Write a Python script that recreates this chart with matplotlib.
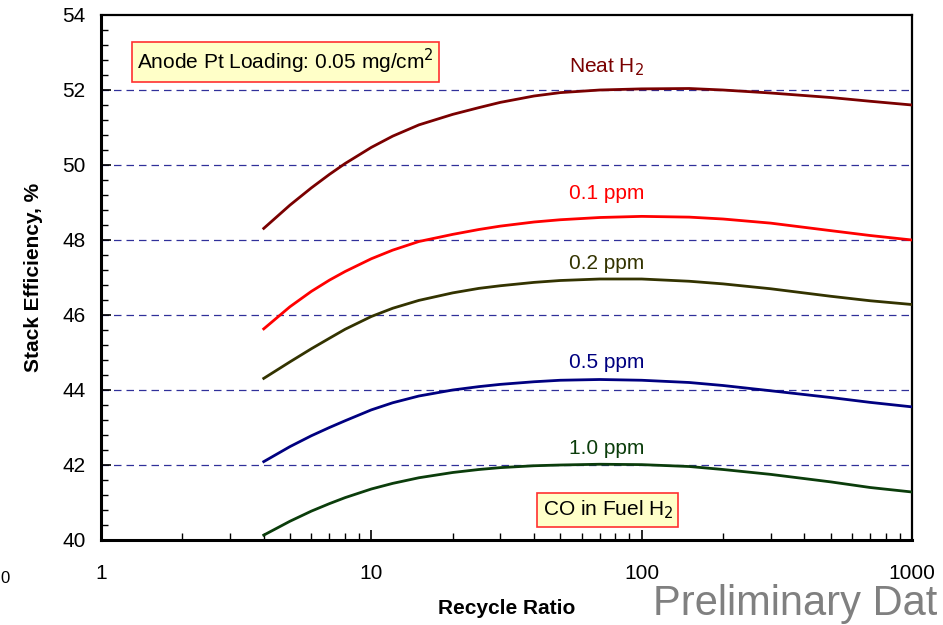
import matplotlib
matplotlib.use("Agg")
import matplotlib.pyplot as plt
from matplotlib.ticker import FixedLocator, FixedFormatter, MultipleLocator, NullFormatter

plt.rcParams['font.family'] = ['Liberation Sans', 'DejaVu Sans']

# recycle ratio values (x) and stack efficiency for each CO level
ratio = [4, 5, 6, 7, 8, 10, 12, 15, 20, 25, 30, 40, 50, 70, 100, 150, 200, 300, 500, 700, 1000]
neat = [48.31, 48.93, 49.39, 49.75, 50.04, 50.47, 50.77, 51.07, 51.35, 51.53, 51.67, 51.84, 51.93, 52.0, 52.03,
        52.04, 52.0, 51.92, 51.8, 51.7, 51.6]
ppm01 = [45.63, 46.22, 46.63, 46.93, 47.16, 47.5, 47.73, 47.96, 48.15, 48.28, 48.37, 48.48, 48.54, 48.6, 48.63,
         48.61, 48.56, 48.45, 48.25, 48.12, 48.0]
ppm02 = [44.31, 44.75, 45.1, 45.38, 45.62, 45.96, 46.18, 46.39, 46.59, 46.71, 46.78, 46.87, 46.92, 46.96, 46.96,
         46.9, 46.83, 46.7, 46.5, 46.38, 46.28]
ppm05 = [42.09, 42.49, 42.78, 43.0, 43.18, 43.47, 43.66, 43.84, 44.0, 44.09, 44.15, 44.22, 44.26, 44.28, 44.26,
         44.2, 44.12, 43.98, 43.8, 43.67, 43.55]
ppm10 = [40.13, 40.5, 40.77, 40.97, 41.13, 41.36, 41.51, 41.66, 41.8, 41.88, 41.93, 41.98, 42.0, 42.02, 42.01,
         41.96, 41.88, 41.75, 41.55, 41.4, 41.28]

labels = ["Neat H$_2$", "0.1 ppm", "0.2 ppm", "0.5 ppm", "1.0 ppm"]
colors = ["#7a0000", "#ff0000", "#333300", "#000080", "#0b3d0b"]
label_y = [52.6, 49.25, 47.36, 44.72, 42.43]
series = [neat, ppm01, ppm02, ppm05, ppm10]

fig = plt.figure(figsize=(9.43, 6.25), dpi=100)
ax = fig.add_axes([0.1071, 0.136, 0.86, 0.84])

ax.set_xscale('log')
ax.set_xlim(1, 1000)
ax.set_ylim(40, 54)

for yv in [42, 44, 46, 48, 50, 52]:
    ax.axhline(yv, color='#30309a', lw=0.9, dashes=(6, 4), zorder=1)

for vals, col, name, ly in zip(series, colors, labels, label_y):
    ax.plot(ratio, vals, color=col, lw=2.0, zorder=3)
    ax.text(74, ly, name, color=col, fontsize=15, ha='center', va='center')

box = dict(boxstyle='square,pad=0.25', facecolor='#ffffc8', edgecolor='#ff3030', lw=1.2)
ax.text(1.36, 52.75, "Anode Pt Loading: 0.05 mg/cm$^2$", fontsize=15, ha='left', va='center', bbox=box)
ax.text(75, 40.8, "CO in Fuel H$_2$", fontsize=15, ha='center', va='center', bbox=box)

ax.yaxis.set_major_locator(MultipleLocator(2))
ax.yaxis.set_minor_locator(MultipleLocator(0.4))
ax.xaxis.set_major_locator(FixedLocator([1, 10, 100, 1000]))
ax.xaxis.set_major_formatter(FixedFormatter(['1', '10', '100', '1000']))
ax.xaxis.set_minor_formatter(NullFormatter())
ax.tick_params(which='both', direction='in', labelsize=15)
ax.tick_params(which='major', length=7, width=1.2)
ax.tick_params(which='minor', length=5, width=1.0)
ax.tick_params(axis='y', pad=11)
ax.tick_params(axis='x', pad=17)

for s in ['left', 'bottom']:
    ax.spines[s].set_linewidth(2.2)
for s in ['top', 'right']:
    ax.spines[s].set_linewidth(1.6)

ax.set_xlabel("Recycle Ratio", fontsize=15, fontweight='bold', labelpad=12)
ax.set_ylabel("Stack Efficiency, %", fontsize=15, fontweight='bold', labelpad=14)

fig.text(0.692, 0.016, "Preliminary Dat", fontsize=30, color='#808080', ha='left', va='baseline')
fig.text(0.0, 0.075, "0", fontsize=12, color='black', ha='left', va='center')

fig.savefig("out.png", dpi=100)
